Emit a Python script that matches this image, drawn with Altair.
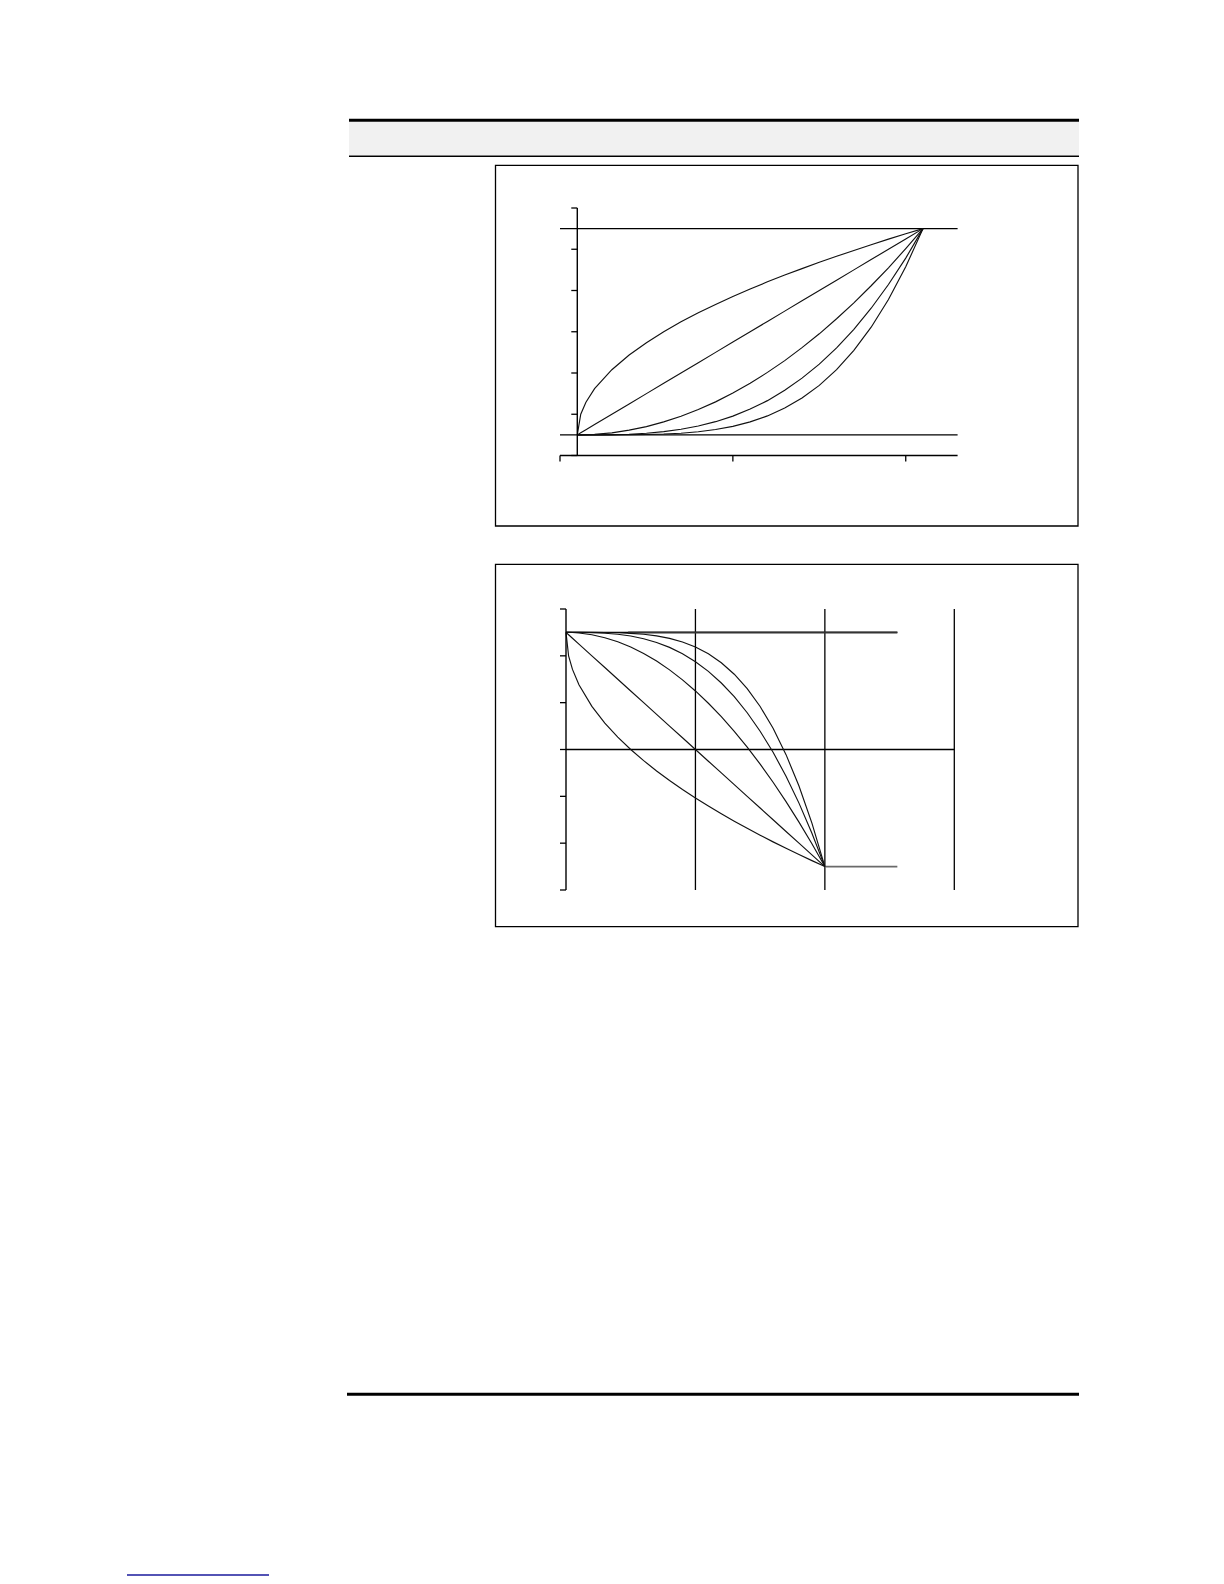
import altair as alt
import pandas as pd

# ---------------- data ----------------
# fraction of the fade (shared sampling of the curves)
t_steps = [0, 0.01, 0.025, 0.05, 0.10, 0.15, 0.20, 0.25, 0.30, 0.35, 0.40, 0.45,
           0.50, 0.55, 0.60, 0.65, 0.70, 0.75, 0.80, 0.85, 0.90, 0.95, 1.0]

# upper panel: x positions of the samples and level (%) of each curve
up_x = [0.10, 0.12, 0.15, 0.20, 0.30, 0.40, 0.50, 0.60, 0.70, 0.80, 0.90, 1.00,
        1.10, 1.20, 1.30, 1.40, 1.50, 1.60, 1.70, 1.80, 1.90, 2.00, 2.10]
up_fast = [0, 10, 15.8, 22.4, 31.6, 38.7, 44.7, 50, 54.8, 59.2, 63.2, 67.1,
           70.7, 74.2, 77.5, 80.6, 83.7, 86.6, 89.4, 92.2, 94.9, 97.5, 100]
up_linear = [0, 1, 2.5, 5, 10, 15, 20, 25, 30, 35, 40, 45,
             50, 55, 60, 65, 70, 75, 80, 85, 90, 95, 100]
up_slow1 = [0, 0, 0.1, 0.3, 1, 2.3, 4, 6.3, 9, 12.3, 16, 20.3,
            25, 30.3, 36, 42.3, 49, 56.3, 64, 72.3, 81, 90.3, 100]
up_slow2 = [0, 0, 0, 0, 0.1, 0.3, 0.8, 1.6, 2.7, 4.3, 6.4, 9.1,
            12.5, 16.6, 21.6, 27.5, 34.3, 42.2, 51.2, 61.4, 72.9, 85.7, 100]
up_slow3 = [0, 0, 0, 0, 0, 0.1, 0.2, 0.4, 0.8, 1.5, 2.6, 4.1,
            6.3, 9.2, 13, 17.9, 24, 31.6, 41, 52.2, 65.6, 81.5, 100]

up_x_ticks = [0, 1, 2]
up_y_ticks = [-10, 10, 30, 50, 70, 90, 110]
up_levels = [0, 100]

# lower panel
dn_x = [0, 0.02, 0.05, 0.10, 0.20, 0.30, 0.40, 0.50, 0.60, 0.70, 0.80, 0.90,
        1.00, 1.10, 1.20, 1.30, 1.40, 1.50, 1.60, 1.70, 1.80, 1.90, 2.00]
dn_fast = [100, 80, 68.4, 55.3, 36.8, 22.5, 10.6, 0, -9.5, -18.3, -26.5, -34.2,
           -41.4, -48.3, -54.9, -61.2, -67.3, -73.2, -78.9, -84.4, -89.7, -94.9, -100]
dn_linear = [100, 98, 95, 90, 80, 70, 60, 50, 40, 30, 20, 10,
             0, -10, -20, -30, -40, -50, -60, -70, -80, -90, -100]
dn_slow1 = [100, 100, 99.9, 99.5, 98, 95.5, 92, 87.5, 82, 75.5, 68, 59.5,
            50, 39.5, 28, 15.5, 2, -12.5, -28, -44.5, -62, -80.5, -100]
dn_slow2 = [100, 100, 100, 100, 99.8, 99.3, 98.4, 96.9, 94.6, 91.4, 87.2, 81.8,
            75, 66.7, 56.8, 45.1, 31.4, 15.6, -2.4, -22.8, -45.8, -71.5, -100]
dn_slow3 = [100, 100, 100, 100, 100, 99.9, 99.7, 99.2, 98.4, 97, 94.9, 91.8,
            87.5, 81.7, 74.1, 64.3, 52, 36.7, 18.1, -4.4, -31.2, -62.9, -100]

dn_y_ticks = [-120, -80, -40, 0, 40, 80, 120]
dn_grid_x = [1, 2, 3]
dn_top_level = 100
dn_bottom_level = -100
dn_level_end = 2.56

# ---------------- helpers ----------------
def long_df(xs, series):
    rows = []
    for name, ys in series.items():
        for x, y in zip(xs, ys):
            rows.append({"x": x, "y": y, "s": name})
    return pd.DataFrame(rows)

one = pd.DataFrame({"a": [0]})

def hrule(x1, x2, y, width=1.0, color="black"):
    return alt.Chart(one).mark_rule(color=color, strokeWidth=width).encode(
        x=alt.value(x1), x2=alt.value(x2), y=alt.value(y))

def box(x1, x2, y1, y2, fill=None, stroke=None, width=1.0):
    kw = {}
    if fill is not None:
        kw["fill"] = fill
    else:
        kw["fillOpacity"] = 0
    if stroke is not None:
        kw["stroke"] = stroke
        kw["strokeWidth"] = width
    return alt.Chart(one).mark_rect(**kw).encode(
        x=alt.value(x1), x2=alt.value(x2), y=alt.value(y1), y2=alt.value(y2))

# ---------------- page decoration ----------------
decor = [
    box(341, 1071, 114, 147, fill="#f1f1f1"),
    hrule(341, 1071, 112.3, width=3),
    hrule(341, 1071, 148.2, width=1.5),
    box(487.5, 1070, 157.3, 518, stroke="black", width=1.3),
    box(487.5, 1070, 556.3, 918.7, stroke="black", width=1.3),
    hrule(339, 1071, 1386.2, width=3),
    hrule(119, 261, 1567, width=1.6, color="#1a1a9c"),
]

# ---------------- upper panel ----------------
X1 = alt.Scale(domain=[0, 2.3], range=[552, 949.6], nice=False, zero=False)
Y1 = alt.Scale(domain=[-10, 110], range=[447.5, 200], nice=False, zero=False)

up_df = long_df(up_x, {"a": up_fast, "b": up_linear, "c": up_slow1,
                       "d": up_slow2, "e": up_slow3})
up_curves = alt.Chart(up_df).mark_line(color="#111111", strokeWidth=1.15).encode(
    x=alt.X("x:Q", scale=X1, axis=None),
    y=alt.Y("y:Q", scale=Y1, axis=None),
    detail="s:N")

up_hlines_df = pd.DataFrame({"x": [0] * len(up_levels), "x2": [2.3] * len(up_levels),
                             "y": up_levels})
up_hlines = alt.Chart(up_hlines_df).mark_rule(color="black", strokeWidth=1.4).encode(
    x=alt.X("x:Q", scale=X1, axis=None), x2="x2:Q",
    y=alt.Y("y:Q", scale=Y1, axis=None))

up_yaxis = alt.Chart(pd.DataFrame({"x": [up_x[0]], "y": [up_y_ticks[0]],
                                   "y2": [up_y_ticks[-1]]})).mark_rule(
    color="black", strokeWidth=1.4).encode(
    x=alt.X("x:Q", scale=X1, axis=None),
    y=alt.Y("y:Q", scale=Y1, axis=None), y2="y2:Q")

up_xaxis = alt.Chart(pd.DataFrame({"x": [0], "x2": [2.3], "y": [up_y_ticks[0]]})).mark_rule(
    color="black", strokeWidth=1.4).encode(
    x=alt.X("x:Q", scale=X1, axis=None), x2="x2:Q",
    y=alt.Y("y:Q", scale=Y1, axis=None))

up_yticks = alt.Chart(pd.DataFrame({"x": [up_x[0]] * len(up_y_ticks),
                                    "y": up_y_ticks})).mark_rule(
    color="black", strokeWidth=1.3, x2Offset=-6).encode(
    x=alt.X("x:Q", scale=X1, axis=None), x2="x:Q",
    y=alt.Y("y:Q", scale=Y1, axis=None))

up_xticks = alt.Chart(pd.DataFrame({"x": up_x_ticks,
                                    "y": [up_y_ticks[0]] * len(up_x_ticks)})).mark_rule(
    color="black", strokeWidth=1.3, y2Offset=6).encode(
    x=alt.X("x:Q", scale=X1, axis=None),
    y=alt.Y("y:Q", scale=Y1, axis=None), y2="y:Q")

panel1 = alt.layer(up_hlines, up_curves, up_yaxis, up_xaxis, up_yticks, up_xticks)

# ---------------- lower panel ----------------
X2 = alt.Scale(domain=[0, 3], range=[558, 946.3], nice=False, zero=False)
Y2 = alt.Scale(domain=[-120, 120], range=[882, 601], nice=False, zero=False)

dn_df = long_df(dn_x, {"a": dn_fast, "b": dn_linear, "c": dn_slow1,
                       "d": dn_slow2, "e": dn_slow3})
dn_curves = alt.Chart(dn_df).mark_line(color="#111111", strokeWidth=1.15).encode(
    x=alt.X("x:Q", scale=X2, axis=None),
    y=alt.Y("y:Q", scale=Y2, axis=None),
    detail="s:N")

dn_grid = alt.Chart(pd.DataFrame({"x": dn_grid_x,
                                  "y": [dn_y_ticks[0]] * len(dn_grid_x),
                                  "y2": [dn_y_ticks[-1]] * len(dn_grid_x)})).mark_rule(
    color="black", strokeWidth=1.3).encode(
    x=alt.X("x:Q", scale=X2, axis=None),
    y=alt.Y("y:Q", scale=Y2, axis=None), y2="y2:Q")

dn_zero = alt.Chart(pd.DataFrame({"x": [0], "x2": [3], "y": [0]})).mark_rule(
    color="black", strokeWidth=1.4).encode(
    x=alt.X("x:Q", scale=X2, axis=None), x2="x2:Q",
    y=alt.Y("y:Q", scale=Y2, axis=None))

dn_top = alt.Chart(pd.DataFrame({"x": [0], "x2": [dn_level_end], "y": [dn_top_level]})).mark_rule(
    color="black", strokeWidth=1.2).encode(
    x=alt.X("x:Q", scale=X2, axis=None), x2="x2:Q",
    y=alt.Y("y:Q", scale=Y2, axis=None))

dn_top_over = alt.Chart(pd.DataFrame({"x": [0.48], "x2": [dn_level_end],
                                      "y": [dn_top_level]})).mark_rule(
    color="#333333", strokeWidth=2).encode(
    x=alt.X("x:Q", scale=X2, axis=None), x2="x2:Q",
    y=alt.Y("y:Q", scale=Y2, axis=None))

dn_bottom = alt.Chart(pd.DataFrame({"x": [2], "x2": [dn_level_end],
                                    "y": [dn_bottom_level]})).mark_rule(
    color="#6a6a6a", strokeWidth=1.6).encode(
    x=alt.X("x:Q", scale=X2, axis=None), x2="x2:Q",
    y=alt.Y("y:Q", scale=Y2, axis=None))

dn_yaxis = alt.Chart(pd.DataFrame({"x": [0], "y": [dn_y_ticks[0]],
                                   "y2": [dn_y_ticks[-1]]})).mark_rule(
    color="black", strokeWidth=1.4).encode(
    x=alt.X("x:Q", scale=X2, axis=None),
    y=alt.Y("y:Q", scale=Y2, axis=None), y2="y2:Q")

dn_yticks = alt.Chart(pd.DataFrame({"x": [0] * len(dn_y_ticks),
                                    "y": dn_y_ticks})).mark_rule(
    color="black", strokeWidth=1.3, x2Offset=-6).encode(
    x=alt.X("x:Q", scale=X2, axis=None), x2="x:Q",
    y=alt.Y("y:Q", scale=Y2, axis=None))

panel2 = alt.layer(dn_grid, dn_zero, dn_top, dn_top_over, dn_bottom,
                   dn_curves, dn_yaxis, dn_yticks)

# ---------------- assemble ----------------
chart = alt.layer(*decor, panel1, panel2).resolve_scale(
    x="independent", y="independent"
).properties(
    width=1208, height=1568, padding=0,
    autosize=alt.AutoSizeParams(type="none"),
    background="white",
).configure_view(stroke=None)

chart.save("out.html", embed_options={"renderer": "svg", "actions": False})
